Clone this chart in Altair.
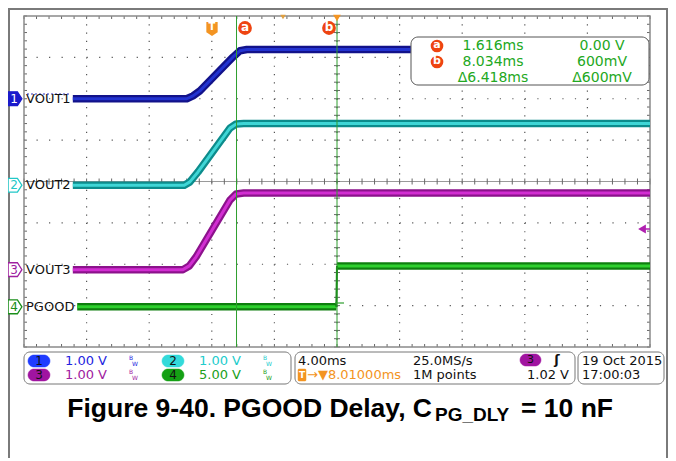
import altair as alt
import pandas as pd
import numpy as np

# ---------------- data ----------------
# time in screen divisions (4.00 ms/div), amplitude in divisions
vout1_t = [0.78, 2.60, 2.70, 2.81, 3.34, 3.45, 3.56, 6.18]
vout1_v = [2.00, 2.00, 2.07, 2.19, 3.01, 3.16, 3.19, 3.19]
vout2_t = [0.78, 2.56, 2.65, 2.78, 3.29, 3.39, 3.51, 10.0]
vout2_v = [-0.09, -0.09, -0.01, 0.23, 1.29, 1.39, 1.40, 1.40]
vout3_t = [0.78, 2.54, 2.64, 2.75, 3.29, 3.39, 3.51, 10.0]
vout3_v = [-2.13, -2.13, -2.04, -1.82, -0.45, -0.30, -0.28, -0.28]
pgood_t = [0.85, 4.99, 5.00, 10.0]
pgood_v = [-3.03, -3.03, -2.04, -2.04]
cursor_t = [3.395, 5.0]
channel_names = ["VOUT1", "VOUT2", "VOUT3", "PGOOD"]
channel_nums = ["1", "2", "3", "4"]
channel_levels = [2.00, -0.09, -2.13, -3.03]
readout_a = ["1.616ms", "0.00 V"]
readout_b = ["8.034ms", "600mV"]
readout_d = ["\u03946.418ms", "\u0394600mV"]
scales_txt = ["1.00 V", "1.00 V", "1.00 V", "5.00 V"]
timebase = ["4.00ms", "25.0MS/s", "8.01000ms", "1M points", "1.02 V"]
date_txt = ["19 Oct  2015", "17:00:03"]

grid_x = list(range(1, 10))
grid_y = list(range(-3, 4))
minor_x = list(np.round(np.arange(0, 10.001, 0.2), 3))
minor_y = list(np.round(np.arange(-4, 4.001, 0.2), 3))

XS = alt.Scale(domain=[0, 10], range=[16, 642])
YS = alt.Scale(domain=[-4, 4], range=[339, 8])
base = pd.DataFrame({"k": [0]})
FONT = "DejaVu Sans"

layers = []

def T(text, x, y, size=13, color="#111111", align="left", weight="normal",
      font=FONT, baseline="middle"):
    return alt.Chart(base).mark_text(
        text=text, align=align, baseline=baseline, font=font, fontSize=size,
        fontWeight=weight, color=color).encode(x=alt.value(x), y=alt.value(y))

def R(x, x2, y, y2, fill="white", stroke="#777777", sw=1.0, cr=0, fo=1.0):
    return alt.Chart(base).mark_rect(
        fill=fill, fillOpacity=fo, stroke=stroke, strokeWidth=sw, cornerRadius=cr
    ).encode(x=alt.value(x), x2=alt.value(x2), y=alt.value(y), y2=alt.value(y2))

def L(x, x2, y, y2, color="#777777", sw=1.0, dash=None):
    kw = dict(color=color, strokeWidth=sw)
    if dash:
        kw["strokeDash"] = dash
    return alt.Chart(base).mark_rule(**kw).encode(
        x=alt.value(x), x2=alt.value(x2), y=alt.value(y), y2=alt.value(y2))

def P(x, y, shape, size, fill, stroke=None, sw=0.0):
    kw = dict(shape=shape, size=size, filled=True, fill=fill, fillOpacity=1, opacity=1)
    if stroke:
        kw["stroke"] = stroke
        kw["strokeWidth"] = sw
    return alt.Chart(base).mark_point(**kw).encode(x=alt.value(x), y=alt.value(y))

# page frame lines
layers.append(L(0, 660, 1, 1, color="#7a7a7a", sw=2))
layers.append(L(1, 1, 0, 450, color="#7a7a7a", sw=2))
layers.append(L(659, 659, 0, 450, color="#7a7a7a", sw=2))

# graticule
gx = pd.DataFrame({"g": grid_x})
gy = pd.DataFrame({"g": grid_y})
layers.append(alt.Chart(gx).mark_rule(color="#555555", strokeWidth=1.2,
                                      strokeDash=[1.2, 7.075]).encode(
    x=alt.X("g:Q", scale=XS, axis=None), y=alt.value(8), y2=alt.value(339)))
layers.append(alt.Chart(gy[gy.g != 0]).mark_rule(color="#555555", strokeWidth=1.2,
                                                 strokeDash=[1.2, 11.32]).encode(
    y=alt.Y("g:Q", scale=YS, axis=None), x=alt.value(16), x2=alt.value(642)))
layers.append(alt.Chart(gy[gy.g == 0]).mark_rule(color="#9a9a9a", strokeWidth=1).encode(
    y=alt.Y("g:Q", scale=YS, axis=None), x=alt.value(16), x2=alt.value(642)))

mx = pd.DataFrame({"m": minor_x})
my = pd.DataFrame({"m": minor_y})
for (y1, y2) in [(8, 11), (336, 339), (170.5, 176.5)]:
    layers.append(alt.Chart(mx).mark_rule(color="#666666", strokeWidth=1).encode(
        x=alt.X("m:Q", scale=XS, axis=None), y=alt.value(y1), y2=alt.value(y2)))
for (x1, x2) in [(16, 19), (639, 642), (326, 332)]:
    layers.append(alt.Chart(my).mark_rule(color="#666666", strokeWidth=1).encode(
        y=alt.Y("m:Q", scale=YS, axis=None), x=alt.value(x1), x2=alt.value(x2)))

# plot border
layers.append(R(16, 642, 8, 339, fill="white", fo=0, stroke="#8a8a8a", sw=1.5))

# dotted pre-trace of VOUT1
layers.append(L(19, 62, 86, 86, color="#3030c0", sw=1, dash=[2, 2]))

# traces
traces = [
    (vout1_t, vout1_v, "#12128a", "#2233d0", [(0, len(vout1_t))]),
    (vout2_t, vout2_v, "#0c8c8c", "#3fd6d6", [(0, len(vout2_t))]),
    (vout3_t, vout3_v, "#8c128c", "#d22ed2", [(0, len(vout3_t))]),
    (pgood_t, pgood_v, "#0e7e0e", "#2ed02e", [(0, 2), (2, 4)]),
]
for t, v, dark, light, segs in traces:
    for a, b in segs:
        df = pd.DataFrame({"t": t[a:b], "v": v[a:b], "i": range(b - a)})
        enc = dict(x=alt.X("t:Q", scale=XS, axis=None),
                   y=alt.Y("v:Q", scale=YS, axis=None),
                   order="i:O")
        layers.append(alt.Chart(df).mark_line(color=dark, strokeWidth=7.5,
                                              strokeJoin="round").encode(**enc))
        layers.append(alt.Chart(df).mark_line(color=light, strokeWidth=3,
                                              strokeJoin="round").encode(**enc))
# PGOOD rising edge (thin)
edge = pd.DataFrame({"t": pgood_t[1:3], "v": pgood_v[1:3], "i": [0, 1]})
layers.append(alt.Chart(edge).mark_line(color="#0e7e0e", strokeWidth=2).encode(
    x=alt.X("t:Q", scale=XS, axis=None), y=alt.Y("v:Q", scale=YS, axis=None),
    order="i:O"))

# cursors
cdf = pd.DataFrame({"c": cursor_t})
layers.append(alt.Chart(cdf).mark_rule(color="#2e9e2e", strokeWidth=1).encode(
    x=alt.X("c:Q", scale=XS, axis=None), y=alt.value(8), y2=alt.value(339)))
layers.append(L(327, 336, 295, 295, color="#2e9e2e", sw=1.2))

# readout box
layers.append(R(403, 641, 29, 77, fill="white", stroke="#555555", sw=1, cr=7))
GREEN = "#22a822"
layers.append(P(429, 38, "circle", 160, "#ee4411"))
layers.append(T("a", 429, 37, size=11, color="white", align="center", weight="bold"))
layers.append(P(429, 54, "circle", 160, "#ee4411"))
layers.append(T("b", 429, 53, size=11, color="white", align="center", weight="bold"))
for row, (y, vals) in enumerate([(38, readout_a), (54, readout_b), (70, readout_d)]):
    layers.append(T(vals[0], 485, y, size=14, color=GREEN, align="center"))
    layers.append(T(vals[1], 594, y, size=14, color=GREEN, align="center"))

# top markers
layers.append(P(204, 21, "M-0.8,-1L0.8,-1L0.8,0.45L0,1L-0.8,0.45Z", 200, "#f39422"))
layers.append(T("T", 204, 19, size=10, color="white", align="center", weight="bold"))
layers.append(P(237, 20, "circle", 190, "#ee4411"))
layers.append(T("a", 237, 19, size=12, color="white", align="center", weight="bold"))
layers.append(P(321, 20, "circle", 190, "#ee4411"))
layers.append(T("b", 321, 19, size=12, color="white", align="center", weight="bold"))
layers.append(P(329, 10, "triangle-down", 60, "#f39422"))
layers.append(P(275, 9, "triangle-down", 30, "#e0a040"))

# trigger level arrow
layers.append(P(634, 221, "triangle-left", 80, "#b020b0"))
layers.append(L(636, 642, 221, 221, color="#b020b0", sw=1.5))

# channel markers and labels
chdf = pd.DataFrame({"lvl": channel_levels, "name": channel_names, "num": channel_nums})
ch_cols = ["#1a1acc", "#22c8c8", "#a020a0", "#1a8f1a"]
marker_path = "M-1,-1L0.35,-1L1,0L0.35,1L-1,1Z"
for i in range(4):
    d = chdf.iloc[[i]]
    fillc = ch_cols[0] if i == 0 else "white"
    layers.append(alt.Chart(d).mark_point(shape=marker_path, size=190, filled=True,
                                          fill=fillc, stroke=ch_cols[i], strokeWidth=1.3,
                                          opacity=1).encode(
        x=alt.value(7), y=alt.Y("lvl:Q", scale=YS, axis=None)))
    layers.append(alt.Chart(d).mark_text(font=FONT, fontSize=12, align="center",
                                         baseline="middle",
                                         color="white" if i == 0 else ch_cols[i]).encode(
        x=alt.value(6), y=alt.Y("lvl:Q", scale=YS, axis=None), text="num:N"))
    layers.append(alt.Chart(d).mark_text(font=FONT, fontSize=13, align="left",
                                         baseline="middle", color="#111111").encode(
        x=alt.value(18), y=alt.Y("lvl:Q", scale=YS, axis=None), text="name:N"))

# status panel
layers.append(R(16, 283, 344, 376, fill="white", stroke="#777777", sw=1, cr=6))
layers.append(R(287, 567, 344, 376, fill="white", stroke="#777777", sw=1, cr=6))
layers.append(R(570, 656, 344, 376, fill="white", stroke="#777777", sw=1, cr=6))

pill_cols = ["#1f3cff", "#33dada", "#a014a0", "#14a014"]
txt_cols = ["#2424e0", "#22cccc", "#a020a0", "#20a020"]
pos = [(20, 353), (154, 353), (20, 367), (154, 367)]
SF = 13
for i in range(4):
    px, py = pos[i]
    layers.append(R(px, px + 22, py - 6, py + 6, fill=pill_cols[i], stroke=pill_cols[i],
                    sw=0.5, cr=6))
    layers.append(T(channel_nums[i], px + 11, py, size=12, align="center"))
    layers.append(T(scales_txt[i], px + 37, py, size=SF, color=txt_cols[i]))
    layers.append(T("B", px + 101, py - 3, size=6, color=txt_cols[i]))
    layers.append(T("W", px + 104, py + 3, size=6, color=txt_cols[i]))

layers.append(T(timebase[0], 290, 353, size=SF))
layers.append(T(timebase[1], 405, 353, size=SF))
layers.append(R(512, 533, 346, 358, fill="#a014a0", stroke="#a014a0", sw=0.5, cr=6))
layers.append(T("3", 522.5, 352, size=11, align="center"))
layers.append(T("\u0283", 549, 352, size=13, weight="bold", align="center"))
layers.append(R(290, 298, 361, 373, fill="#f39422", stroke="#f39422", sw=0.5, cr=1))
layers.append(T("T", 294, 367, size=9, color="white", align="center", weight="bold"))
layers.append(T("\u2192\u25bc" + timebase[2], 299, 367, size=SF, color="#f39422"))
layers.append(T(timebase[3], 405, 367, size=SF))
layers.append(T(timebase[4], 561, 367, size=SF, align="right"))
layers.append(T(date_txt[0], 574, 353, size=SF))
layers.append(T(date_txt[1], 574, 367, size=SF))

# caption
CAP = "Liberation Sans"
layers.append(T("Figure 9-40. PGOOD Delay, C", 424, 409, size=26.5, weight="bold",
                font=CAP, baseline="alphabetic", color="#000000", align="right"))
layers.append(T("PG_DLY", 427, 413, size=19, weight="bold", font=CAP,
                baseline="alphabetic", color="#000000"))
layers.append(T("= 10 nF", 513, 409, size=26.5, weight="bold", font=CAP,
                baseline="alphabetic", color="#000000"))

chart = alt.layer(*layers).properties(
    width=660, height=450, padding=0, autosize=alt.AutoSizeParams(type="none")
).configure_view(stroke=None)

chart.save("out.html", embed_options={"renderer": "svg", "actions": False})
